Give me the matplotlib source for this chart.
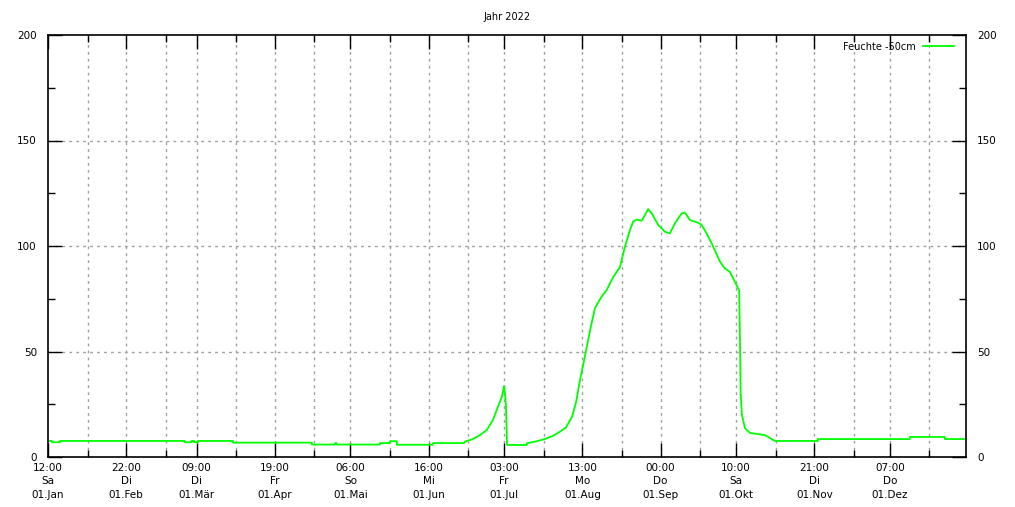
# -----------------------------------------------------------------------------------------
# Soil moisture (Feuchte -50cm) over the year 2022, gnuplot look

import matplotlib
matplotlib.use("Agg")
from matplotlib import pyplot as plt

# -----------------------------------------------------------------------------------------
# Data (day of year counted from 01.Jan, value)

days = [0, 1.6, 1.6, 4.8, 4.8, 54.3, 54.3, 57, 57, 58, 58, 59.5, 59.5, 73.4, 73.4,
        104.7, 104.7, 113.8, 114.0, 114.4, 114.6, 131.7, 131.7, 135.7, 135.7, 138.4, 138.4,
        152.7, 152.7, 165.0, 165.4, 168.6, 171.4, 174.1, 176.5, 178.5, 180.1, 180.9,
        181.3, 181.7, 182.1, 190, 190, 194, 197.1, 200.3, 203.1, 204.3, 205.5, 207.9,
        209.5, 211, 213.4, 215.4, 217, 219.6, 221.6, 224.1, 226.9, 228.9, 230.9, 232.1,
        233.5, 235.5, 236.5, 238.1, 239.5, 242.1, 244.7, 246.7, 248.7, 251.4, 252.7,
        254.7, 258, 259.3, 261.3, 263.9, 266.6, 268.5, 270.5, 272.5, 274.2, 274.6, 274.8,
        275.3, 276.5, 278.5, 284.4, 286.4, 288.4, 305.4, 305.4, 341.9, 341.9, 355.8,
        355.8, 364]
feuchte = [7.6, 7.6, 7.0, 7.0, 7.6, 7.6, 7.0, 7.0, 7.6, 7.6, 7.0, 7.0, 7.6, 7.6, 6.8,
           6.8, 5.9, 5.9, 6.6, 6.6, 5.9, 5.9, 6.6, 6.6, 7.5, 7.5, 5.8,
           5.8, 6.6, 6.6, 7.3, 8.5, 10.4, 12.8, 17.5, 23.8, 28.6, 33.6,
           30, 24, 5.7, 5.7, 6.5, 7.5, 8.5, 10, 12, 13, 14, 19,
           26, 36, 50, 62, 70.5, 76, 79, 85, 90, 99.7, 107.6, 111.5,
           112.5, 112, 114, 117.5, 115.5, 110, 106.8, 106, 110.7, 115.5, 115.8,
           112.3, 111, 110, 106, 99.7, 92.6, 89.4, 87.8, 83, 79, 50, 30,
           20, 13.7, 11.4, 10.4, 9, 7.6, 7.6, 8.5, 8.5, 9.5, 9.5,
           8.5, 8.5]

month_start = [0, 31, 59, 90, 120, 151, 181, 212, 243, 273, 304, 334]
tick_labels = ["12:00\nSa\n01.Jan", "22:00\nDi\n01.Feb", "09:00\nDi\n01.Mär",
               "19:00\nFr\n01.Apr", "06:00\nSo\n01.Mai", "16:00\nMi\n01.Jun",
               "03:00\nFr\n01.Jul", "13:00\nMo\n01.Aug", "00:00\nDo\n01.Sep",
               "10:00\nSa\n01.Okt", "21:00\nDi\n01.Nov", "07:00\nDo\n01.Dez"]
y_ticks = [0, 50, 100, 150, 200]

# -----------------------------------------------------------------------------------------
# Plot

plt.rcParams['font.family'] = ['DejaVu Sans']
fig = plt.figure(figsize=(10.15, 5.07), dpi=100)
ax = fig.add_axes([48 / 1015, 1 - 457 / 507, 918 / 1015, 422 / 507])

grid_style = dict(color="#a0a0a0", lw=1, linestyle=(0, (2, 3)), zorder=1)
for d in month_start[1:] + [d + 15.7 for d in month_start]:
    ax.axvline(d, **grid_style)
for v in y_ticks[1:-1]:
    ax.axhline(v, **grid_style)

ax.plot(days, feuchte, color="#00ff00", lw=1.3, label="Feuchte -50cm", zorder=3)

ax.set_xlim(0, 364.2)
ax.set_ylim(0, 200)
ax.set_xticks(month_start)
ax.set_xticklabels(tick_labels, fontsize=7, linespacing=1.45)
ax.set_xticks([d + 15.7 for d in month_start], minor=True)
ax.set_yticks(y_ticks)
ax.set_yticks([25, 75, 125, 175], minor=True)
ax.tick_params(axis="both", which="both", direction="in", top=True, right=True,
               labelright=True, labelsize=7.5, width=1, color="black")
ax.tick_params(axis="both", which="major", length=10)
ax.tick_params(axis="both", which="minor", length=5)
ax.tick_params(axis="y", pad=8)
ax.tick_params(axis="x", pad=4)
for side in ax.spines.values():
    side.set_linewidth(1.2)
    side.set_zorder(4)

fig.text(0.5, 1 - 17 / 507, "Jahr 2022", ha="center", va="center", fontsize=7)
ax.legend(loc="upper right", bbox_to_anchor=(1.0, 1.012), frameon=False, fontsize=7,
          markerfirst=False, handlelength=3.2, borderaxespad=0.8, handletextpad=0.8)

fig.savefig("out.png", dpi=100)
